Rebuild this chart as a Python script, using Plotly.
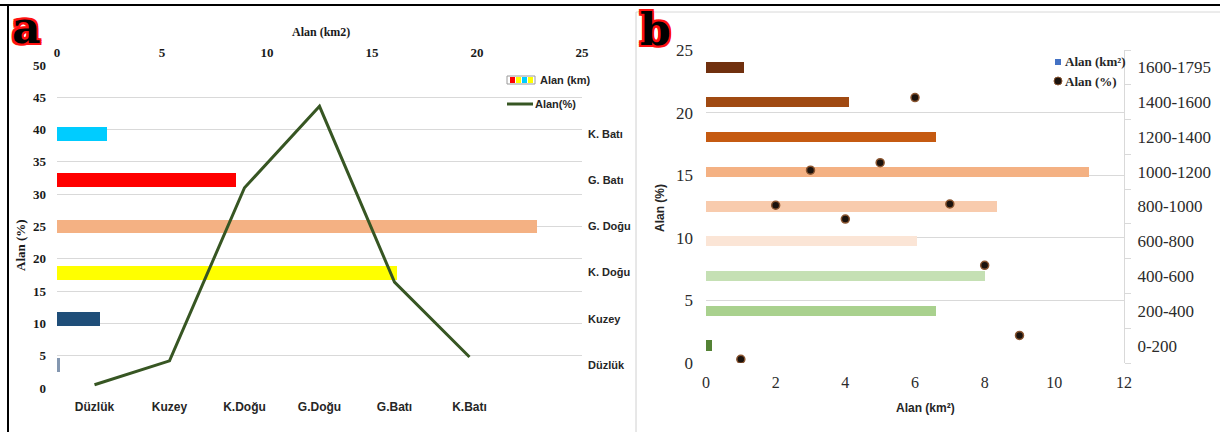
import plotly.graph_objects as go

W, H = 1220, 432


def fx(px):
    return px / W


def fy(py):
    return 1 - py / H


# ---------- panel a: aspect classes ----------
aspect_names = ["Düzlük", "Kuzey", "K.Doğu", "G.Doğu", "G.Batı", "K.Batı"]
aspect_bar_labels = ["Düzlük", "Kuzey", "K. Doğu", "G. Doğu", "G. Batı", "K. Batı"]
aspect_km2 = [0.15, 2.05, 16.2, 22.85, 8.5, 2.4]
aspect_pct = [0.5, 4.2, 31.0, 43.6, 16.4, 4.8]
aspect_colors = ["#8497b0", "#1f4e79", "#ffff00", "#f4b183", "#ff0000", "#00ccff"]

# ---------- panel b: elevation classes ----------
elev_classes = ["0-200", "200-400", "400-600", "600-800", "800-1000",
                "1000-1200", "1200-1400", "1400-1600", "1600-1795"]
elev_km2 = [0.17, 6.6, 8.0, 6.05, 8.35, 11.0, 6.6, 4.1, 1.1]
elev_class_no = [1, 2, 3, 4, 5, 6, 7, 8, 9]
elev_pct = [0.3, 12.6, 15.4, 11.5, 16.0, 21.2, 12.7, 7.8, 2.2]
elev_colors = ["#548235", "#a9d18e", "#c5e0b4", "#fbe5d6", "#f8cbad",
               "#f4b183", "#c55a11", "#a04a12", "#70300e"]

GRID = "#d9d9d9"
LINE_GREEN = "#375623"

fig = go.Figure()

# panel a: area bars (top km2 axis, right category axis)
fig.add_trace(go.Bar(
    x=aspect_km2, y=aspect_bar_labels, orientation="h", width=0.3,
    marker=dict(color=aspect_colors, line_width=0),
    xaxis="x", yaxis="y", showlegend=False, hoverinfo="skip"))

# panel a: percentage line (bottom category axis, left % axis)
fig.add_trace(go.Scatter(
    x=aspect_names, y=aspect_pct, mode="lines",
    line=dict(color=LINE_GREEN, width=3),
    xaxis="x2", yaxis="y2", showlegend=False, hoverinfo="skip"))

# panel b: area bars per elevation class
fig.add_trace(go.Bar(
    x=elev_km2, y=elev_classes, orientation="h", width=0.3,
    marker=dict(color=elev_colors, line_width=0),
    xaxis="x3", yaxis="y3", showlegend=False, hoverinfo="skip"))

# panel b: percentage points
fig.add_trace(go.Scatter(
    x=elev_class_no, y=elev_pct, mode="markers",
    marker=dict(size=8, color="#1a120d", line=dict(color="#8a5530", width=1.5)),
    xaxis="x3", yaxis="y4", showlegend=False, hoverinfo="skip"))

serif_bold = dict(family="Liberation Serif", size=13, color="#1a1a1a", weight="bold")
sans_bold = dict(family="Liberation Sans", size=11, color="#262626", weight="bold")
serif_b = dict(family="Liberation Serif", size=17, color="#2b2b2b")

common = dict(automargin=False, zeroline=False)

fig.update_layout(
    template="none",
    width=W, height=H,
    margin=dict(l=0, r=0, t=0, b=0, pad=0, autoexpand=False),
    paper_bgcolor="white", plot_bgcolor="rgba(0,0,0,0)",
    bargap=0,
    xaxis=dict(common, domain=[fx(57), fx(582)], anchor="y", side="top",
               range=[0, 25], dtick=5, showgrid=False,
               ticks="", tickfont=serif_bold, ticklabelstandoff=4),
    yaxis=dict(common, domain=[fy(388), fy(65)], anchor="x", side="right",
               type="category", categoryorder="array",
               categoryarray=aspect_bar_labels, range=[-0.5, 6.5],
               showgrid=False, ticks="",
               tickfont=sans_bold, ticklabelstandoff=5),
    xaxis2=dict(common, overlaying="x", anchor="y2", side="bottom",
                type="category", categoryorder="array",
                categoryarray=aspect_names, range=[-0.5, 6.5],
                showgrid=False, ticks="",
                tickfont=dict(family="Liberation Sans", size=12,
                              color="#262626", weight="bold"),
                ticklabelstandoff=10),
    yaxis2=dict(common, overlaying="y", anchor="x2", side="left",
                range=[0, 50], dtick=5, showgrid=True, gridcolor=GRID,
                gridwidth=1, ticks="", tickfont=serif_bold,
                ticklabelstandoff=10),
    xaxis3=dict(common, domain=[fx(706), fx(1124)], anchor="y3",
                range=[0, 12], dtick=2, showgrid=False,
                ticks="", tickfont=dict(family="Liberation Serif", size=16,
                                        color="#2b2b2b"),
                ticklabelstandoff=8),
    yaxis3=dict(common, domain=[fy(363), fy(50)], anchor="x3", side="right",
                type="category", categoryorder="array",
                categoryarray=elev_classes, range=[-0.5, 8.5],
                tickson="boundaries", ticks="outside", ticklen=6,
                tickcolor=GRID, showline=True, linecolor=GRID,
                showgrid=False, tickfont=serif_b,
                ticklabelstandoff=9),
    yaxis4=dict(common, overlaying="y3", anchor="x3", side="left",
                range=[0, 25], dtick=5, showgrid=True, gridcolor=GRID,
                gridwidth=1, ticks="", tickfont=serif_b,
                ticklabelstandoff=12),
)

annotations = []
shapes = []


def text(x, y, s, font, xanchor="center", yanchor="middle", angle=0):
    annotations.append(dict(x=fx(x), y=fy(y), xref="paper", yref="paper",
                            text=s, showarrow=False, font=font,
                            xanchor=xanchor, yanchor=yanchor, textangle=angle))


# red outline around the panel letters
OUTLINE = ", ".join(f"{dx}px {dy}px 0 #ff1010"
                    for dx, dy in [(-2, -2), (0, -2), (2, -2), (-2, 0),
                                   (2, 0), (-2, 2), (0, 2), (2, 2)])


def panel_letter(x, y, s):
    text(x, y, s, dict(family="DejaVu Serif", size=44, weight="bold",
                       color="black", shadow=OUTLINE))


# axis titles
narrow = dict(family="Liberation Sans Narrow", size=12, color="#1a1a1a", weight="bold")
text(321, 32, "Alan (km2)", narrow)
text(20, 245, "Alan (%)", dict(narrow, size=13), angle=-90)
text(660, 208, "Alan (%)", dict(family="Liberation Sans", size=12,
                                  color="#262626", weight="bold"), angle=-90)
text(925, 408, "Alan (km²)", dict(family="Liberation Sans", size=12,
                                   color="#262626", weight="bold"))

# panel a legend
shapes.append(dict(type="rect", xref="paper", yref="paper",
                   x0=fx(507), x1=fx(535), y0=fy(84), y1=fy(76),
                   line=dict(color="#9a9a9a", width=1), fillcolor="white"))
for i, c in enumerate(["#ff0000", "#ffff00", "#00ccff", "#ffff00"]):
    shapes.append(dict(type="rect", xref="paper", yref="paper",
                       x0=fx(510 + 6 * i), x1=fx(515 + 6 * i),
                       y0=fy(83), y1=fy(77), line_width=0, fillcolor=c))
text(538, 80, "Alan (km)", sans_bold, xanchor="left")
shapes.append(dict(type="line", xref="paper", yref="paper",
                   x0=fx(507), x1=fx(533), y0=fy(104), y1=fy(104),
                   line=dict(color=LINE_GREEN, width=3)))
text(533, 104, "Alan(%)", sans_bold, xanchor="left")

# panel b legend
leg_font = dict(family="Liberation Serif", size=13, color="#262626", weight="bold")
shapes.append(dict(type="rect", xref="paper", yref="paper",
                   x0=fx(1055), x1=fx(1061), y0=fy(65), y1=fy(59),
                   line_width=0, fillcolor="#4472c4"))
text(1063, 62, "Alan (km²)", leg_font, xanchor="left")
shapes.append(dict(type="circle", xref="paper", yref="paper",
                   x0=fx(1054), x1=fx(1062), y0=fy(85), y1=fy(77),
                   line=dict(color="#8a5530", width=1), fillcolor="#1a120d"))
text(1063, 81, "Alan (%)", leg_font, xanchor="left")

# panel frames
shapes.append(dict(type="line", xref="paper", yref="paper",
                   x0=fx(636), x1=fx(636), y0=fy(12), y1=0,
                   line=dict(color="#d0d0d0", width=1)))
shapes.append(dict(type="line", xref="paper", yref="paper",
                   x0=fx(636), x1=1, y0=fy(12), y1=fy(12),
                   line=dict(color="#d8d8d8", width=1)))
shapes.append(dict(type="line", xref="paper", yref="paper",
                   x0=0, x1=1, y0=fy(5), y1=fy(5),
                   line=dict(color="black", width=2)))
shapes.append(dict(type="line", xref="paper", yref="paper",
                   x0=fx(8), x1=fx(8), y0=fy(5), y1=0,
                   line=dict(color="black", width=2)))

# panel letters
panel_letter(26, 27, "a")
panel_letter(655, 30, "b")

fig.update_layout(annotations=annotations, shapes=shapes)

# page body without default margin so the figure fills the window exactly
page_css = (
    "var st=document.createElement('style');"
    "st.textContent='html,body{margin:0 !important;padding:0 !important;"
    "overflow:hidden;}';"
    "document.head.appendChild(st);"
)
fig.write_html("out.html", post_script=page_css)
